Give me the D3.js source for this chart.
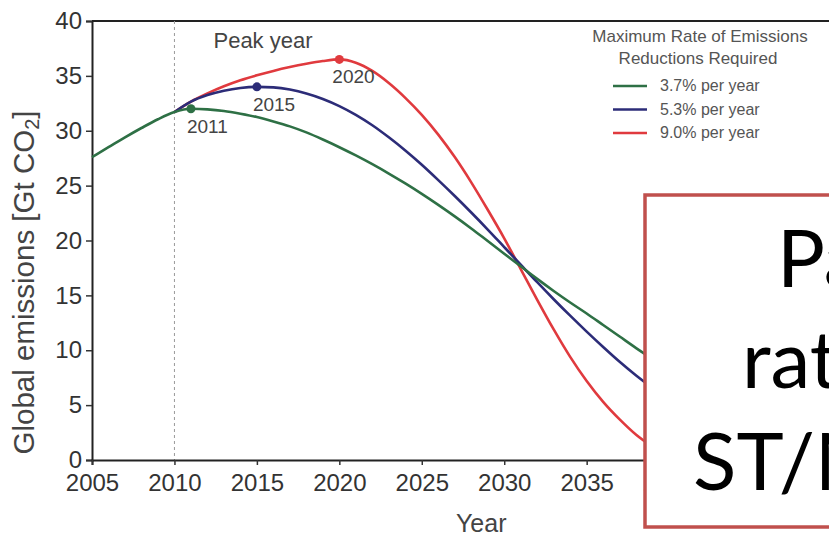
<!DOCTYPE html>
<html>
<head>
<meta charset="utf-8">
<script src="https://cdn.jsdelivr.net/npm/d3@7"></script>
<style>
html,body{margin:0;padding:0;background:#fff;}
svg{display:block;}
</style>
</head>
<body>
<svg id="chart" width="829" height="537"></svg>
<script>
// ---- data ----
const yearsGreen = [2005,2006,2007,2008,2009,2010,2011,2012,2013,2014,2015,2016,2017,2018,2019,2020,2021,2022,2023,2024,2025,2026,2027,2028,2029,2030,2031,2032,2033,2034,2035,2036,2037,2038,2039];
const green = [27.6,28.5,29.4,30.25,31.05,31.7,32.0,31.95,31.8,31.55,31.25,30.85,30.4,29.85,29.2,28.5,27.75,26.95,26.1,25.2,24.25,23.25,22.2,21.1,19.95,18.8,17.65,16.5,15.4,14.35,13.35,12.3,11.25,10.2,9.2];
const yearsOther = [2010,2011,2012,2013,2014,2015,2016,2017,2018,2019,2020,2021,2022,2023,2024,2025,2026,2027,2028,2029,2030,2031,2032,2033,2034,2035,2036,2037,2038,2039];
const blue = [31.7,32.65,33.25,33.65,33.9,34.0,33.95,33.75,33.4,32.9,32.25,31.45,30.5,29.4,28.2,26.9,25.5,24.05,22.55,21.0,19.4,17.8,16.2,14.65,13.15,11.7,10.3,8.95,7.7,6.55];
const red = [31.7,32.65,33.4,34.05,34.6,35.05,35.45,35.8,36.1,36.35,36.5,36.2,35.45,34.35,33.0,31.45,29.65,27.6,25.3,22.8,20.2,17.4,14.6,11.9,9.4,7.2,5.3,3.7,2.3,1.2];
const seriesNames = ["3.7% per year","5.3% per year","9.0% per year"];
const seriesColors = ["#2e7045","#2c2c78","#e03a3e"];
const peakYears = [2011,2015,2020];
const peakValues = [32.0,34.0,36.5];
const xTicks = [2005,2010,2015,2020,2025,2030,2035,2040];
const yTicks = [0,5,10,15,20,25,30,35,40];
const boxLines = ["Pa","rat","ST/M"];

// ---- chart ----
const svg = d3.select("#chart");
const x = d3.scaleLinear().domain([2005,2050]).range([92,834]);
const y = d3.scaleLinear().domain([0,40]).range([460,21]);
const tickFont = "'Liberation Sans', Arial, sans-serif";

svg.append("rect").attr("width",829).attr("height",537).attr("fill","#fff");

// top border
svg.append("line").attr("x1",x(2005)).attr("x2",x(2050)).attr("y1",y(40)).attr("y2",y(40))
  .attr("stroke","#222").attr("stroke-width",2);

// dashed 2010 line
svg.append("line").attr("x1",x(2010)).attr("x2",x(2010)).attr("y1",y(40)).attr("y2",y(0))
  .attr("stroke","#999").attr("stroke-width",1).attr("stroke-dasharray","3,3");

const yAxis = svg.append("g").attr("transform",`translate(${x(2005)},0)`)
  .call(d3.axisLeft(y).tickValues(yTicks).tickSize(6).tickPadding(4));
const xAxis = svg.append("g").attr("transform",`translate(0,${y(0)})`)
  .call(d3.axisBottom(x).tickValues(xTicks).tickFormat(d3.format("d")).tickSize(5).tickPadding(9));
[yAxis,xAxis].forEach(g=>{
  g.select(".domain").attr("stroke","#222").attr("stroke-width",2);
  g.selectAll(".tick line").attr("stroke","#333").attr("stroke-width",1.5);
  g.selectAll(".tick text").attr("fill","#333").style("font-family",tickFont).style("font-size","24px");
});

// axis titles
const yt = svg.append("text").attr("transform",`translate(34,${(y(0)+y(40))/2 + 42}) rotate(-90)`)
  .attr("text-anchor","middle").attr("fill","#444").style("font-family",tickFont).style("font-size","29.5px");
yt.append("tspan").text("Global emissions [Gt CO");
yt.append("tspan").attr("font-size","20px").attr("dy","5").text("2");
yt.append("tspan").attr("dy","-5").text("]");
svg.append("text").attr("x",(x(2025)+x(2035))/2 - 23).attr("y",532).attr("text-anchor","middle")
  .attr("fill","#444").style("font-family",tickFont).style("font-size","25px").text("Year");

// lines
const line = d3.line().x(d=>x(d[0])).y(d=>y(d[1])).curve(d3.curveMonotoneX);
const seriesData = [
  d3.zip(yearsGreen, green),
  d3.zip(yearsOther, blue),
  d3.zip(yearsOther, red)
];
[2,1,0].forEach(i=>{
  svg.append("path").datum(seriesData[i]).attr("d",line).attr("fill","none")
    .attr("stroke",seriesColors[i]).attr("stroke-width",2.6);
});

// peak markers & labels
peakYears.forEach((yr,i)=>{
  svg.append("circle").attr("cx",x(yr)).attr("cy",y(peakValues[i])).attr("r",4.5).attr("fill",seriesColors[i]);
  svg.append("text").attr("x",x(yr)-(i===2?7:4)).attr("y",y(peakValues[i])+24)
    .attr("fill","#444").style("font-family",tickFont).style("font-size","19px").text(yr);
});
svg.append("text").attr("x",263).attr("y",48).attr("text-anchor","middle").attr("fill","#444")
  .style("font-family",tickFont).style("font-size","22px").text("Peak year");

// legend
svg.append("text").attr("x",700).attr("y",42).attr("text-anchor","middle").attr("fill","#555")
  .style("font-family",tickFont).style("font-size","17px").text("Maximum Rate of Emissions");
svg.append("text").attr("x",698).attr("y",64).attr("text-anchor","middle").attr("fill","#555")
  .style("font-family",tickFont).style("font-size","17px").text("Reductions Required");
seriesNames.forEach((n,i)=>{
  const ly = 86 + i*23.5;
  svg.append("line").attr("x1",613).attr("x2",647).attr("y1",ly).attr("y2",ly)
    .attr("stroke",seriesColors[i]).attr("stroke-width",2.6);
  svg.append("text").attr("x",660).attr("y",ly+5).attr("fill","#555")
    .style("font-family",tickFont).style("font-size","16px").text(n);
});

// overlay box
svg.append("rect").attr("x",645).attr("y",195).attr("width",300).attr("height",332)
  .attr("fill","#fff").attr("stroke","#c0504d").attr("stroke-width",3.5);
const boxX = [777,742,693];
const boxY = [287,388,490];
boxLines.forEach((t,i)=>{
  svg.append("text").attr("x",boxX[i]).attr("y",boxY[i]).attr("fill","#000")
    .style("font-family","Lato, 'Open Sans', sans-serif").style("font-size","80px").text(t);
});
</script>
</body>
</html>
